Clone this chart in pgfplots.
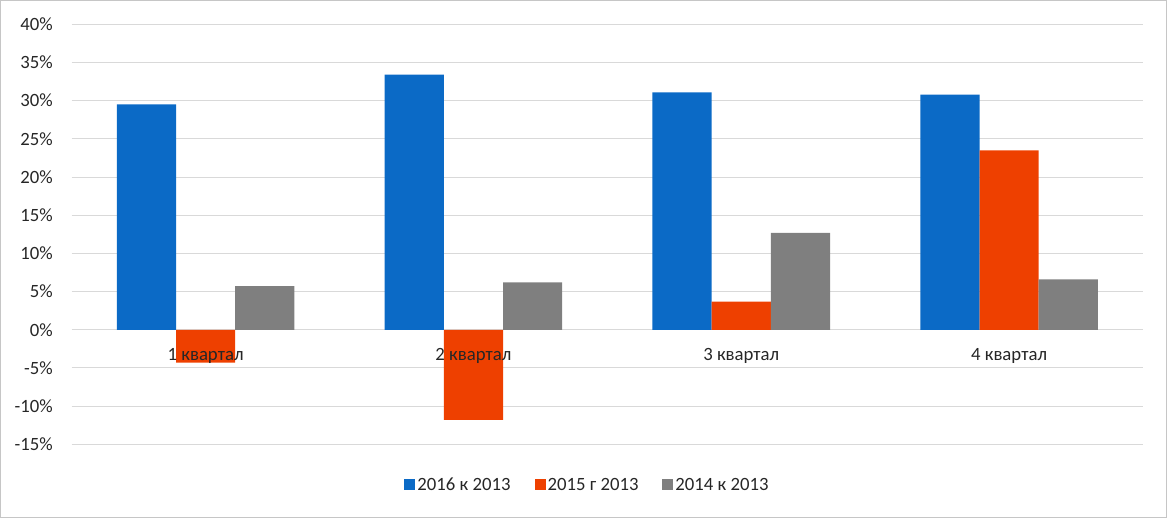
\documentclass[border=0pt]{standalone}
\usepackage{pgfplots}
\pgfplotsset{compat=1.18}
\usepackage{fontspec}
\setmainfont{Carlito}
\definecolor{cblue}{HTML}{0B6AC6}
\definecolor{corange}{HTML}{EE4000}
\definecolor{cgray}{HTML}{7F7F7F}
\definecolor{cgrid}{HTML}{D9D9D9}
\definecolor{ctext}{HTML}{262626}
\begin{document}
\fontsize{18.8}{22}\selectfont
\begin{tikzpicture}
\begin{axis}[
  at={(0,0)}, anchor=south west,
  scale only axis, width=1071.3bp, height=420bp,
  xmin=-0.5, xmax=3.5, ymin=-15, ymax=40,
  ytick={-15,-10,...,40},
  xtick=\empty,
  ymajorgrids, grid style={cgrid, line width=1bp},
  axis line style={draw=none},
  major tick length=0pt,
  yticklabel={\pgfmathprintnumber[assume math mode=true]{\tick}\%},
  yticklabel style={anchor=east, inner sep=0pt, xshift=-18.7bp, text=ctext},
  ybar, bar width=0.221,
  legend columns=3,
  legend image code/.code={\fill[#1] (0bp,-5bp) rectangle (11bp,6bp);},
  legend style={at={(0.4815,-0.098)}, anchor=center, draw=none, fill=none,
    text=ctext,
    nodes={inner xsep=2bp, inner ysep=0bp},
    /tikz/every even column/.append style={column sep=22bp}},
]
\addplot[fill=cblue, draw=none, bar shift=-0.221] coordinates {(0,29.5) (1,33.4) (2,31.1) (3,30.8)};
\addlegendentry{2016 к 2013}
\addplot[fill=corange, draw=none, bar shift=0] coordinates {(0,-4.3) (1,-11.8) (2,3.7) (3,23.5)};
\addlegendentry{2015 г 2013}
\addplot[fill=cgray, draw=none, bar shift=0.221] coordinates {(0,5.7) (1,6.2) (2,12.7) (3,6.6)};
\addlegendentry{2014 к 2013}
\node[anchor=base, yshift=-30.7bp, text=ctext, inner sep=0pt] at (axis cs:0,0) {1 квартал};
\node[anchor=base, yshift=-30.7bp, text=ctext, inner sep=0pt] at (axis cs:1,0) {2 квартал};
\node[anchor=base, yshift=-30.7bp, text=ctext, inner sep=0pt] at (axis cs:2,0) {3 квартал};
\node[anchor=base, yshift=-30.7bp, text=ctext, inner sep=0pt] at (axis cs:3,0) {4 квартал};
\end{axis}
\draw[color=gray!45, line width=1.5bp] (-70.95bp,-72.95bp) rectangle (1094.55bp,443.55bp);
\end{tikzpicture}
\end{document}
